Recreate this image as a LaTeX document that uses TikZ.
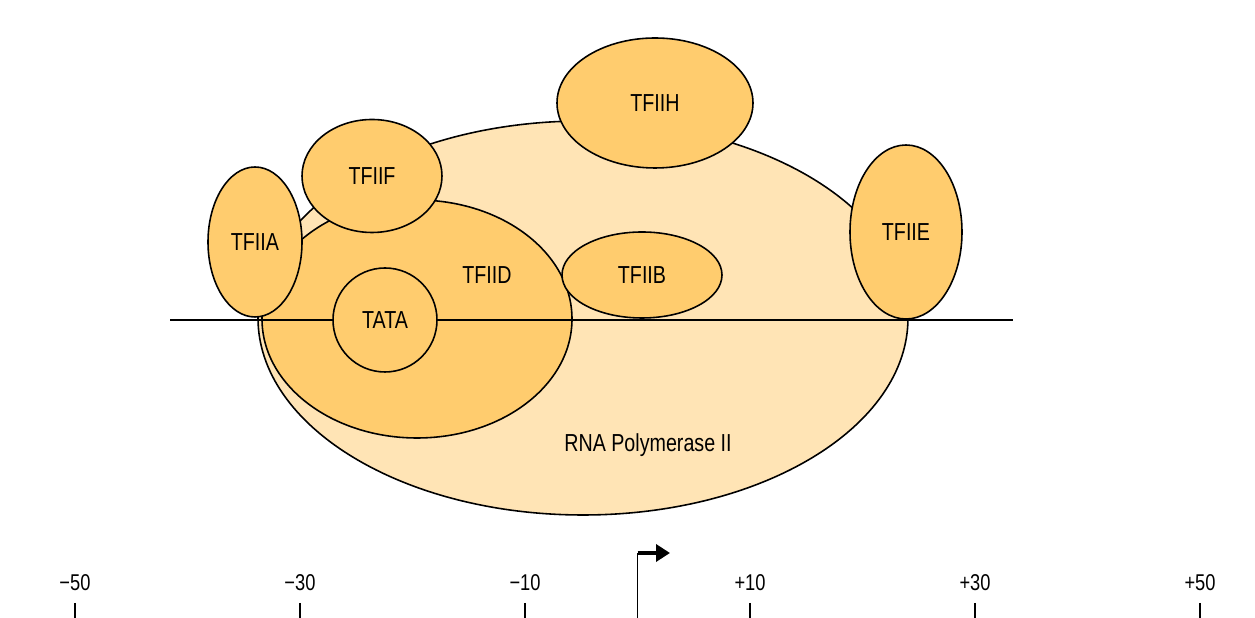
\documentclass[tikz,border=0pt]{standalone}
\usepackage{fontspec}
\setmainfont[FakeStretch=0.8]{Liberation Sans}
\usetikzlibrary{shapes.geometric,arrows.meta}

\definecolor{polfill}{HTML}{FFE4B5}
\definecolor{tffill}{HTML}{FFCC6E}

\tikzset{
  factor/.style={draw, shape=ellipse, fill=tffill, inner sep=0pt, line width=0.9pt},
  every node/.append style={font=\fontsize{14}{16}\selectfont},
  ticktext/.style={font=\fontsize{13}{15}\selectfont},
}

\begin{document}
\begin{tikzpicture}
    \useasboundingbox (0,0) rectangle (25.1,12.36);

    % polymerase and TFIID underneath the DNA
    \node[factor, fill=polfill, minimum width=13cm, minimum height=7.88cm] (pol) at (11.66,6.00) {};
    \node[factor, minimum width=6.2cm, minimum height=4.76cm] (tfiid) at (8.34,5.98) {};
    \node (poltext) at (12.96,3.46) {RNA Polymerase II};
    \node (tfiidtext) at (9.74,6.86) {TFIID};

    \coordinate (dnaL) at (3.4,5.96);
    \coordinate (dnaR) at (20.26,5.96);
    \draw[line width=1.2pt] (dnaL)--(dnaR);

    % the other factors on top
    \node[factor, shape=circle, minimum size=2.08cm] (tata) at (7.70,5.96) {TATA};
    \node[factor, minimum width=1.88cm, minimum height=3.0cm] (tfiia) at (5.10,7.52) {TFIIA};
    \node[factor, minimum width=2.8cm, minimum height=2.26cm] (tfiif) at (7.44,8.84) {TFIIF};
    \node[factor, minimum width=3.92cm, minimum height=2.6cm] (tfiih) at (13.10,10.30) {TFIIH};
    \node[factor, minimum width=3.2cm, minimum height=1.72cm] (tfiib) at (12.84,6.86) {TFIIB};
    \node[factor, minimum width=2.24cm, minimum height=3.48cm] (tfiie) at (18.12,7.72) {TFIIE};

    % position scale
    \foreach \pos/\txt in {-50/−50, -30/−30, -10/−10, 10/+10, 30/+30, 50/+50} {
        \node[ticktext] (lab\pos) at ({12.75+0.225*\pos},0.70) {\txt};
        \coordinate (tick\pos) at ({12.75+0.225*\pos},0.30);
        \draw[line width=0.6pt] (tick\pos) -- ++(0,-0.30);
    }

    \coordinate (tss) at (12.75,0);
    \coordinate (bend) at (12.75,1.30);
    \draw[line width=0.9pt] (tss) -- (bend);
    \draw[line width=2pt, -{Triangle[length=0.28cm,width=0.34cm]}] (bend) -- ++(0.65,0);
\end{tikzpicture}
\end{document}
